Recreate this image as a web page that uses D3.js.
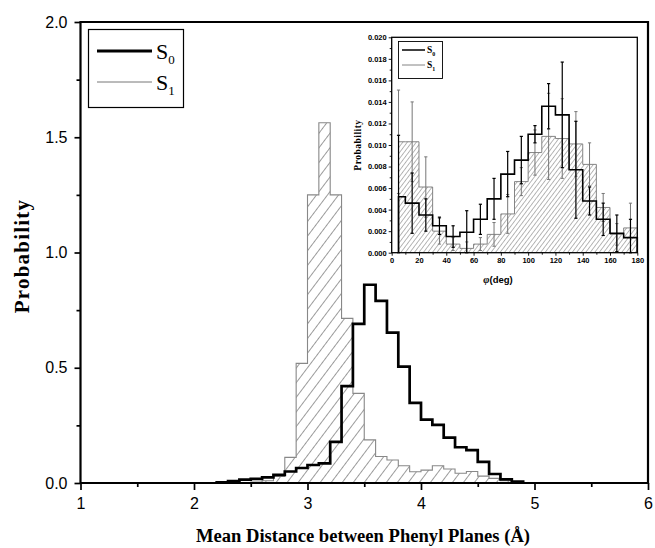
<!DOCTYPE html>
<html>
<head>
<meta charset="utf-8">
<script src="https://cdn.jsdelivr.net/npm/d3@7"></script>
<style>
  body { margin: 0; background: #fff; }
  svg { display: block; }
  .tick text { font-family: "Liberation Sans", Arial, sans-serif; }
</style>
</head>
<body>
<div id="chart"></div>
<script>
// --- main histogram: mean distance between phenyl planes (bins 0.1 wide, left edges) ---
const distBins = [2.2, 2.3, 2.4, 2.5, 2.6, 2.7, 2.8, 2.9, 3.0, 3.1, 3.2, 3.3, 3.4, 3.5,
                  3.6, 3.7, 3.8, 3.9, 4.0, 4.1, 4.2, 4.3, 4.4, 4.5, 4.6, 4.7, 4.8];
const distBinWidth = 0.1;
const s0Dist = [0.003, 0.008, 0.015, 0.018, 0.024, 0.035, 0.050, 0.065, 0.078, 0.085, 0.178, 0.420, 0.690, 0.860,
                0.790, 0.652, 0.505, 0.348, 0.275, 0.252, 0.197, 0.155, 0.143, 0.092, 0.039, 0.016, 0.006];
const s1Dist = [0, 0, 0.002, 0.004, 0.010, 0.028, 0.111, 0.519, 1.250, 1.563, 1.250, 0.714, 0.389, 0.187,
                0.115, 0.100, 0.075, 0.049, 0.056, 0.075, 0.061, 0.042, 0.050, 0.030, 0.020, 0.010, 0];
const distTicks = [1, 2, 3, 4, 5, 6];
const distMinorTicks = [1.5, 2.5, 3.5, 4.5, 5.5];
const probTicks = [0, 0.5, 1.0, 1.5, 2.0];
const probMinorTicks = [0.25, 0.75, 1.25, 1.75];

// --- inset: phi angle histogram (bin centres every 10 deg) with error bars ---
const phiCenters = [5, 15, 25, 35, 45, 55, 65, 75, 85, 95, 105, 115, 125, 135, 145, 155, 165, 175];
const phiEdges = [5, 10, 20, 30, 40, 50, 60, 70, 80, 90, 100, 110, 120, 130, 140, 150, 160, 170, 180];
const s0Phi = [0.0052, 0.0046, 0.0035, 0.0025, 0.0015, 0.0019, 0.0031, 0.0050, 0.0073, 0.0086, 0.0110, 0.0136,
               0.0128, 0.0077, 0.0048, 0.0031, 0.0018, 0.0014];
const s0PhiErr = [0.0057, 0.0028, 0.0015, 0.0008, 0.0010, 0.0020, 0.0014, 0.0019, 0.0021, 0.0022, 0.0008, 0.0021,
                  0.0049, 0.0045, 0.0013, 0.0015, 0.0017, 0.0017];
const s1Phi = [0.0103, 0.0103, 0.0061, 0.0020, 0.0008, 0.0004, 0.0008, 0.0017, 0.0036, 0.0066, 0.0093, 0.0108,
               0.0106, 0.0101, 0.0082, 0.0042, 0.0017, 0.0023];
const s1PhiErr = [0.0048, 0.0037, 0.0028, 0.0012, 0.0006, 0.0006, 0.0006, 0.0011, 0.0018, 0.0013, 0.0021, 0.0040,
                  0.0037, 0.0030, 0.0020, 0.0013, 0.0010, 0.0023];
const phiTicks = [0, 20, 40, 60, 80, 100, 120, 140, 160, 180];
const phiMinorTicks = [10, 30, 50, 70, 90, 110, 130, 150, 170];
const insetProbTicks = [0, 0.002, 0.004, 0.006, 0.008, 0.010, 0.012, 0.014, 0.016, 0.018, 0.020];
const insetProbMinor = [0.001, 0.003, 0.005, 0.007, 0.009, 0.011, 0.013, 0.015, 0.017, 0.019];

const W = 655, H = 548;
const serif = '"Liberation Serif", "Times New Roman", serif';
const sans = '"Liberation Sans", Arial, sans-serif';

const svg = d3.select('#chart').append('svg').attr('width', W).attr('height', H);
const defs = svg.append('defs');

function hatch(id, size, width, color) {
    const p = defs.append('pattern').attr('id', id)
        .attr('patternUnits', 'userSpaceOnUse')
        .attr('width', size).attr('height', size)
        .attr('patternTransform', 'rotate(37)');
    p.append('line').attr('x1', 0).attr('y1', 0).attr('x2', 0).attr('y2', size)
        .attr('stroke', color).attr('stroke-width', width);
}
hatch('hatchMain', 8.8, 0.9, '#222');
hatch('hatchInset', 3.6, 0.7, '#333');

// step outline from bin edges and values
function stepPoints(edges, values) {
    const pts = [[edges[0], 0]];
    values.forEach((v, i) => {
        pts.push([edges[i], v]);
        pts.push([edges[i + 1], v]);
    });
    pts.push([edges[edges.length - 1], 0]);
    return pts;
}

// ================= main chart =================
const x = d3.scaleLinear().domain([1, 6]).range([80.5, 648]);
const y = d3.scaleLinear().domain([0, 2]).range([483, 22]);

const distEdges = distBins.concat([distBins[distBins.length - 1] + distBinWidth]);
const line = d3.line().x(d => x(d[0])).y(d => y(d[1]));

svg.append('path')
    .attr('d', line(stepPoints(distEdges, s1Dist)))
    .attr('fill', 'url(#hatchMain)')
    .attr('stroke', '#888').attr('stroke-width', 1.1);

svg.append('path')
    .attr('d', line(stepPoints(distEdges, s0Dist)))
    .attr('fill', 'none')
    .attr('stroke', '#000').attr('stroke-width', 2.7)
    .attr('stroke-linejoin', 'miter');

// frame
svg.append('path')
    .attr('d', `M${x(1)},${y(0)}V${y(2)}H${x(6)}V${y(0)}Z`)
    .attr('fill', 'none').attr('stroke', '#000').attr('stroke-width', 2.2);

const xAxis = svg.append('g').attr('transform', `translate(0,${y(0)})`)
    .call(d3.axisBottom(x).tickValues(distTicks).tickFormat(d3.format('d')).tickSize(7).tickPadding(8));
svg.append('g').attr('transform', `translate(0,${y(0)})`)
    .call(d3.axisBottom(x).tickValues(distMinorTicks).tickFormat('').tickSize(4));
const yAxis = svg.append('g').attr('transform', `translate(${x(1)},0)`)
    .call(d3.axisLeft(y).tickValues(probTicks).tickFormat(d3.format('.1f')).tickSize(6).tickPadding(7));
svg.append('g').attr('transform', `translate(${x(1)},0)`)
    .call(d3.axisLeft(y).tickValues(probMinorTicks).tickFormat('').tickSize(4));

svg.selectAll('.domain').remove();
svg.selectAll('.tick line').attr('stroke', '#000').attr('stroke-width', 1.7);
xAxis.selectAll('text').attr('font-size', 16).attr('font-family', sans).attr('fill', '#000');
yAxis.selectAll('text').attr('font-size', 16).attr('font-family', sans).attr('fill', '#000');

svg.append('text')
    .attr('x', 363).attr('y', 542)
    .attr('text-anchor', 'middle')
    .attr('font-family', serif).attr('font-weight', 'bold').attr('font-size', 18.6)
    .text('Mean Distance between Phenyl Planes (Å)');

svg.append('text')
    .attr('transform', 'translate(29,256) rotate(-90)')
    .attr('text-anchor', 'middle')
    .attr('font-family', serif).attr('font-weight', 'bold').attr('font-size', 21)
    .attr('letter-spacing', 1.2)
    .text('Probability');

// legend
const leg = svg.append('g');
leg.append('rect').attr('x', 88.5).attr('y', 29.5).attr('width', 95).attr('height', 78)
    .attr('fill', '#fff').attr('stroke', '#000').attr('stroke-width', 1.2);
leg.append('line').attr('x1', 97).attr('x2', 152).attr('y1', 51).attr('y2', 51)
    .attr('stroke', '#000').attr('stroke-width', 2.8);
leg.append('line').attr('x1', 97).attr('x2', 152).attr('y1', 82).attr('y2', 82)
    .attr('stroke', '#666').attr('stroke-width', 0.9);
[['0', 59], ['1', 90]].forEach(([sub, yy]) => {
    const t = leg.append('text').attr('x', 156).attr('y', yy)
        .attr('font-family', serif).attr('font-size', 22);
    t.append('tspan').text('S');
    t.append('tspan').attr('font-size', 13).attr('dy', 5).text(sub);
});

// ================= inset =================
const ix = d3.scaleLinear().domain([0, 180]).range([391.7, 637.3]);
const iy = d3.scaleLinear().domain([0, 0.020]).range([252.7, 37.3]);
const iline = d3.line().x(d => ix(d[0])).y(d => iy(d[1]));
const inset = svg.append('g');

inset.append('path')
    .attr('d', iline(stepPoints(phiEdges, s1Phi)))
    .attr('fill', 'url(#hatchInset)')
    .attr('stroke', '#777').attr('stroke-width', 0.9);

function errorBars(vals, errs, color, w) {
    const g = inset.append('g').attr('stroke', color).attr('stroke-width', w);
    phiCenters.forEach((c, i) => {
        const lo = Math.max(0, vals[i] - errs[i]), hi = vals[i] + errs[i];
        g.append('line').attr('x1', ix(c)).attr('x2', ix(c)).attr('y1', iy(lo)).attr('y2', iy(hi));
        [lo, hi].forEach(v => g.append('line')
            .attr('x1', ix(c) - 1.6).attr('x2', ix(c) + 1.6).attr('y1', iy(v)).attr('y2', iy(v)));
    });
}
errorBars(s1Phi, s1PhiErr, '#777', 1);

inset.append('path')
    .attr('d', iline(stepPoints(phiEdges, s0Phi)))
    .attr('fill', 'none')
    .attr('stroke', '#000').attr('stroke-width', 1.6);
errorBars(s0Phi, s0PhiErr, '#000', 1.2);

inset.append('rect')
    .attr('x', ix(0)).attr('y', iy(0.020))
    .attr('width', ix(180) - ix(0)).attr('height', iy(0) - iy(0.020))
    .attr('fill', 'none').attr('stroke', '#000').attr('stroke-width', 1.3);

const ixAxis = inset.append('g').attr('transform', `translate(0,${iy(0)})`)
    .call(d3.axisBottom(ix).tickValues(phiTicks).tickFormat(d3.format('d')).tickSize(3).tickPadding(2));
inset.append('g').attr('transform', `translate(0,${iy(0)})`)
    .call(d3.axisBottom(ix).tickValues(phiMinorTicks).tickFormat('').tickSize(2));
const iyAxis = inset.append('g').attr('transform', `translate(${ix(0)},0)`)
    .call(d3.axisLeft(iy).tickValues(insetProbTicks).tickFormat(d3.format('.3f')).tickSize(3).tickPadding(2));
inset.append('g').attr('transform', `translate(${ix(0)},0)`)
    .call(d3.axisLeft(iy).tickValues(insetProbMinor).tickFormat('').tickSize(2));
inset.selectAll('.domain').remove();
inset.selectAll('.tick line').attr('stroke', '#000').attr('stroke-width', 0.9);
[ixAxis, iyAxis].forEach(a => a.selectAll('text')
    .attr('font-size', 7.5).attr('font-weight', 'bold').attr('fill', '#000')
    .attr('font-family', '"Liberation Sans Narrow", "Liberation Sans", Arial, sans-serif'));

inset.append('text')
    .attr('transform', 'translate(361,145) rotate(-90)')
    .attr('text-anchor', 'middle')
    .attr('font-family', serif).attr('font-weight', 'bold').attr('font-size', 9.5)
    .attr('letter-spacing', 0.5)
    .text('Probability');

const phiLabel = inset.append('text')
    .attr('x', 498).attr('y', 283)
    .attr('text-anchor', 'middle')
    .attr('font-family', sans).attr('font-weight', 'bold').attr('font-size', 9.5);
phiLabel.append('tspan').attr('font-style', 'italic').attr('font-family', serif).attr('font-size', 10.5).text('φ');
phiLabel.append('tspan').text('(deg)');

// inset legend
const ileg = inset.append('g');
ileg.append('rect').attr('x', 398.5).attr('y', 41.5).attr('width', 44).attr('height', 37)
    .attr('fill', '#fff').attr('stroke', '#000').attr('stroke-width', 0.9);
ileg.append('line').attr('x1', 402).attr('x2', 425).attr('y1', 50).attr('y2', 50)
    .attr('stroke', '#000').attr('stroke-width', 1.5);
ileg.append('line').attr('x1', 402).attr('x2', 425).attr('y1', 65).attr('y2', 65)
    .attr('stroke', '#777').attr('stroke-width', 0.9);
[['0', 53], ['1', 68]].forEach(([sub, yy]) => {
    const t = ileg.append('text').attr('x', 427).attr('y', yy)
        .attr('font-family', serif).attr('font-weight', 'bold').attr('font-size', 9.5);
    t.append('tspan').text('S');
    t.append('tspan').attr('font-size', 6).attr('dy', 2.5).text(sub);
});
</script>
</body>
</html>
